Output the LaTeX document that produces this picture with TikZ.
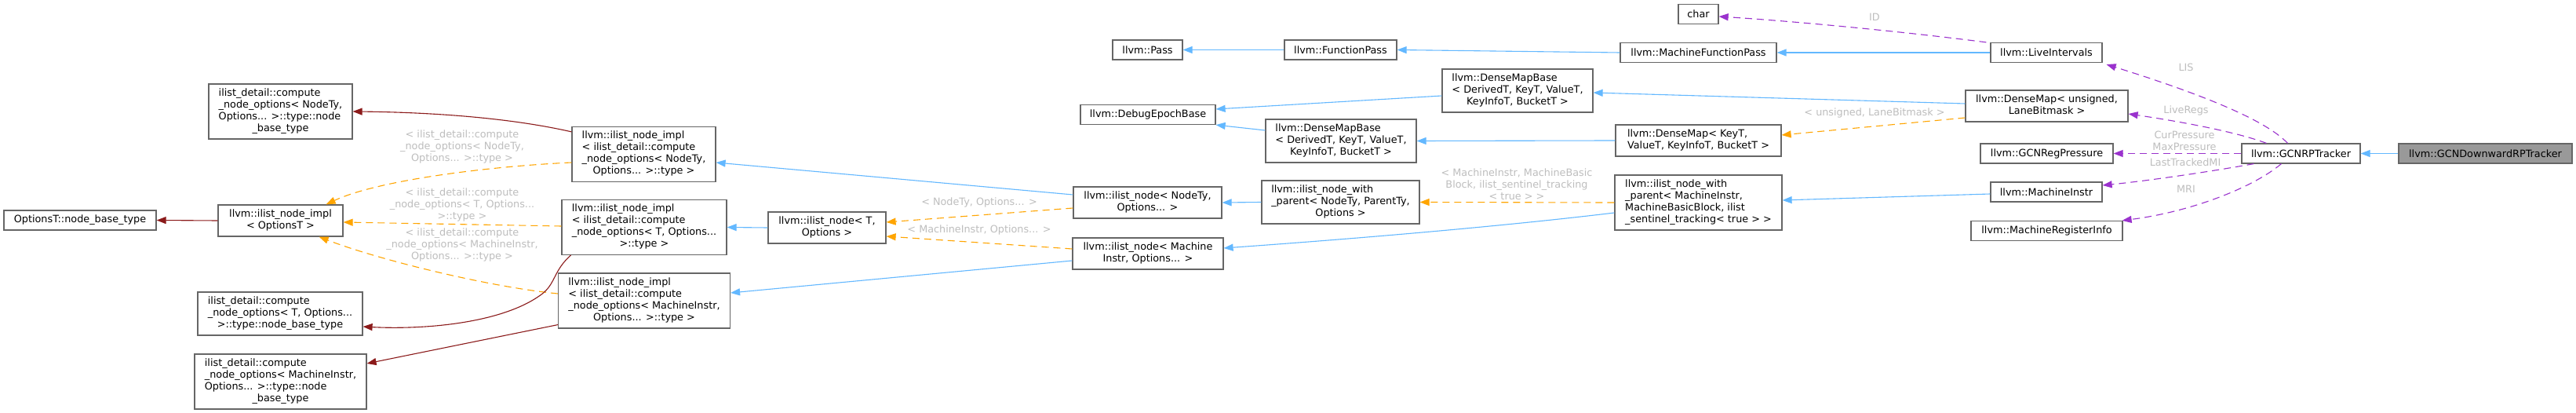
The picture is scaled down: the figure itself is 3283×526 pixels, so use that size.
\documentclass[tikz,border=0pt]{standalone}
\usepackage{fontspec}
\setmainfont{DejaVu Sans}
\usetikzlibrary{arrows.meta}
\definecolor{bordc}{HTML}{666666}
\definecolor{hilite}{HTML}{999999}
\definecolor{inhc}{HTML}{63B8FF}
\definecolor{tplc}{HTML}{FFA500}
\definecolor{usgc}{HTML}{9A32CD}
\definecolor{typc}{HTML}{8B1A1A}
\definecolor{labc}{HTML}{BEBEBE}
\newcommand\mlab[2]{\begin{tabular}{@{}l@{}}#1\\\multicolumn{1}{@{}c@{}}{#2}\end{tabular}}
\begin{document}
\begin{tikzpicture}[x=1pt,y=-1pt,
 bx/.style={draw=bordc, fill=white, line width=1.2pt, inner sep=0pt, font=\fontsize{12.8}{15}\selectfont, align=center},
 lab/.style={text=labc, inner sep=0pt, font=\fontsize{12.8}{15}\selectfont, align=center},
 conn/.style={line width=1.1pt, -{Triangle[length=12pt,width=9pt]}},
 inh/.style={conn, color=inhc},
 tpl/.style={conn, color=tplc, dash pattern=on 9pt off 6pt},
 usg/.style={conn, color=usgc, dash pattern=on 9pt off 6pt},
 typ/.style={conn, color=typc},
]
\fill[white] (0,0) rectangle (3283,526);
\useasboundingbox (0,0) rectangle (3283,526);

% nodes
\node[bx,minimum width=194pt,minimum height=25pt] (optT) at (102,280.5) {OptionsT::node\_base\_type};
\node[bx,minimum width=183pt,minimum height=70pt] (cmpN) at (357.5,142) {\mlab{ilist\_detail::compute\\\_node\_options< NodeTy,\\Options... >::type::node}{\_base\_type}};
\node[bx,minimum width=159pt,minimum height=40pt] (implO) at (357.5,281) {\mlab{llvm::ilist\_node\_impl}{< OptionsT >}};
\node[bx,minimum width=210pt,minimum height=55pt] (cmpT) at (357,399.5) {\mlab{ilist\_detail::compute\\\_node\_options< T, Options...}{>::type::node\_base\_type}};
\node[bx,minimum width=219pt,minimum height=70pt] (cmpM) at (357.5,486) {\mlab{ilist\_detail::compute\\\_node\_options< MachineInstr,\\Options... >::type::node}{\_base\_type}};
\node[bx,minimum width=183pt,minimum height=70pt] (implN) at (820.5,196.5) {\mlab{llvm::ilist\_node\_impl\\< ilist\_detail::compute\\\_node\_options< NodeTy,}{Options... >::type >}};
\node[bx,minimum width=210pt,minimum height=70pt] (implT) at (821,289.5) {\mlab{llvm::ilist\_node\_impl\\< ilist\_detail::compute\\\_node\_options< T, Options...}{>::type >}};
\node[bx,minimum width=219pt,minimum height=70pt] (implM) at (821,383) {\mlab{llvm::ilist\_node\_impl\\< ilist\_detail::compute\\\_node\_options< MachineInstr,}{Options... >::type >}};
\node[bx,minimum width=150pt,minimum height=40pt] (nodeT) at (1054,290) {\mlab{llvm::ilist\_node< T,}{Options >}};
\node[bx,minimum width=189pt,minimum height=40pt] (nodeN) at (1462.5,258) {\mlab{llvm::ilist\_node< NodeTy,}{Options... >}};
\node[bx,minimum width=192pt,minimum height=40pt] (nodeM) at (1463,323) {\mlab{llvm::ilist\_node< Machine}{Instr, Options... >}};
\node[bx,minimum width=89pt,minimum height=25pt] (pass) at (1462.5,63.5) {llvm::Pass};
\node[bx,minimum width=172pt,minimum height=25pt] (dbg) at (1463,146) {llvm::DebugEpochBase};
\node[bx,minimum width=143pt,minimum height=25pt] (fpass) at (1708.5,63.5) {llvm::FunctionPass};
\node[bx,minimum width=192pt,minimum height=55pt] (dmbT) at (1934,115.5) {\mlab{llvm::DenseMapBase\\< DerivedT, KeyT, ValueT,}{KeyInfoT, BucketT >}};
\node[bx,minimum width=192pt,minimum height=55pt] (dmbL) at (1709,179.5) {\mlab{llvm::DenseMapBase\\< DerivedT, KeyT, ValueT,}{KeyInfoT, BucketT >}};
\node[bx,minimum width=201pt,minimum height=55pt] (nwpN) at (1708.5,257.5) {\mlab{llvm::ilist\_node\_with\\\_parent< NodeTy, ParentTy,}{Options >}};
\node[bx,minimum width=51pt,minimum height=25pt] (chr) at (2164.5,18) {char};
\node[bx,minimum width=199pt,minimum height=25pt] (mfp) at (2164.5,67) {llvm::MachineFunctionPass};
\node[bx,minimum width=211pt,minimum height=40pt] (dmK) at (2164.5,179) {\mlab{llvm::DenseMap< KeyT,}{ValueT, KeyInfoT, BucketT >}};
\node[bx,minimum width=213pt,minimum height=70pt] (nwpM) at (2164.5,258) {\mlab{llvm::ilist\_node\_with\\\_parent< MachineInstr,\\MachineBasicBlock, ilist}{\_sentinel\_tracking< true > >}};
\node[bx,minimum width=142pt,minimum height=25pt] (li) at (2608,67) {llvm::LiveIntervals};
\node[bx,minimum width=207pt,minimum height=40pt] (dmU) at (2608.5,135) {\mlab{llvm::DenseMap< unsigned,}{LaneBitmask >}};
\node[bx,minimum width=169pt,minimum height=25pt] (rp) at (2608.5,195.5) {llvm::GCNRegPressure};
\node[bx,minimum width=142pt,minimum height=25pt] (mi) at (2608,244.5) {llvm::MachineInstr};
\node[bx,minimum width=193pt,minimum height=25pt] (mri) at (2608.5,294) {llvm::MachineRegisterInfo};
\node[bx,minimum width=151pt,minimum height=25pt] (rpt) at (2932.5,195.5) {llvm::GCNRPTracker};
\node[bx,fill=hilite,minimum width=221pt,minimum height=25pt] (drpt) at (3167.5,195.5) {llvm::GCNDownwardRPTracker};

% edges
\draw[inh] (drpt.west) -- (rpt.east);
\draw[usg] ([xshift=59pt]rpt.north west) .. controls (2885,150) and (2790,115) .. ([xshift=5pt,yshift=-2pt]li.south east);
\draw[usg] ([xshift=32pt]rpt.north west) .. controls (2850,168) and (2780,155) .. ([yshift=-10pt]dmU.east);
\draw[usg] (rpt.west) -- (rp.east);
\draw[usg] ([xshift=16pt]rpt.south west) .. controls (2820,218) and (2740,230) .. ([yshift=8.5pt]mi.east);
\draw[usg] ([xshift=51pt]rpt.south west) .. controls (2870,240) and (2790,270) .. ([xshift=-1pt]mri.north east);
\draw[usg] ([xshift=-5pt]li.north west) .. controls (2440,42) and (2300,28) .. ([yshift=-3pt]chr.east);
\draw[inh] (li.west) -- (mfp.east);
\draw[inh] (mfp.west) -- (fpass.east);
\draw[inh] (fpass.west) -- (pass.east);
\draw[inh] ([yshift=3pt]dmU.west) -- ([yshift=-2.5pt]dmbT.east);
\draw[tpl] ([yshift=-15pt]dmU.west) -- ([yshift=7pt]dmK.east);
\draw[inh] (dmK.west) -- (dmbL.east);
\draw[inh] ([yshift=-6.5pt]dmbT.west) -- ([yshift=7pt]dbg.east);
\draw[inh] ([yshift=13.5pt]dmbL.west) -- (dbg.south east);
\draw[inh] ([yshift=-2.5pt]mi.west) -- ([yshift=3pt]nwpM.east);
\draw[tpl] (nwpM.west) -- (nwpN.east);
\draw[inh] ([yshift=-13pt]nwpM.west) .. controls (1900,290) and (1700,306) .. ([yshift=7pt]nodeM.east);
\draw[inh] (nwpN.west) -- (nodeN.east);
\draw[tpl] ([yshift=-7pt]nodeN.west) -- ([yshift=7pt]nodeT.east);
\draw[tpl] ([yshift=6pt]nodeM.west) -- ([yshift=-11pt]nodeT.east);
\draw[inh] ([yshift=10pt]nodeN.west) -- ([yshift=-10.5pt]implN.east);
\draw[inh] ([yshift=-9pt]nodeM.west) -- ([yshift=10pt]implM.east);
\draw[inh] (nodeT.west) -- (implT.east);
\draw[tpl] ([yshift=-10.5pt]implN.west) .. controls (620,212) and (480,230) .. ([xshift=-22pt]implO.north east);
\draw[tpl] ([yshift=1.5pt]implT.west) -- ([yshift=-2pt]implO.east);
\draw[tpl] ([yshift=9pt]implM.west) .. controls (620,365) and (480,330) .. ([xshift=-31pt]implO.south east);
\draw[typ] (implO.west) -- (optT.east);
\draw[typ] ([yshift=-7pt]implN.north west) .. controls (650,150) and (550,143) .. (cmpN.east);
\draw[typ] ([xshift=12pt]implT.south west) .. controls (705,345) and (708,362) .. (690,375) .. controls (640,412) and (540,420) .. ([yshift=-16.5pt]cmpT.east);
\draw[typ] ([yshift=5pt]implM.south west) -- ([yshift=23pt]cmpM.east);

% edge labels
\node[lab] (lLIS) at (2786,86) {LIS};
\node[lab] (lLR) at (2786,141) {LiveRegs};
\node[lab] (lCP) at (2784,179) {CurPressure\\MaxPressure};
\node[lab] (lLT) at (2785,207) {LastTrackedMI};
\node[lab] (lMRI) at (2786,241) {MRI};
\node[lab] (lID) at (2389,22) {ID};
\node[lab] (lUL) at (2389,144) {< unsigned, LaneBitmask >};
\node[lab] (lMB) at (1933,235) {< MachineInstr, MachineBasic\\Block, ilist\_sentinel\_tracking\\< true > >};
\node[lab] (lNO) at (1248,258) {< NodeTy, Options... >};
\node[lab] (lMO) at (1248,293) {< MachineInstr, Options... >};
\node[lab] (lcN) at (589,187) {< ilist\_detail::compute\\\_node\_options< NodeTy,\\Options... >::type >};
\node[lab] (lcT) at (589,261) {< ilist\_detail::compute\\\_node\_options< T, Options...\\>::type >};
\node[lab] (lcM) at (589,312) {< ilist\_detail::compute\\\_node\_options< MachineInstr,\\Options... >::type >};
\end{tikzpicture}
\end{document}
